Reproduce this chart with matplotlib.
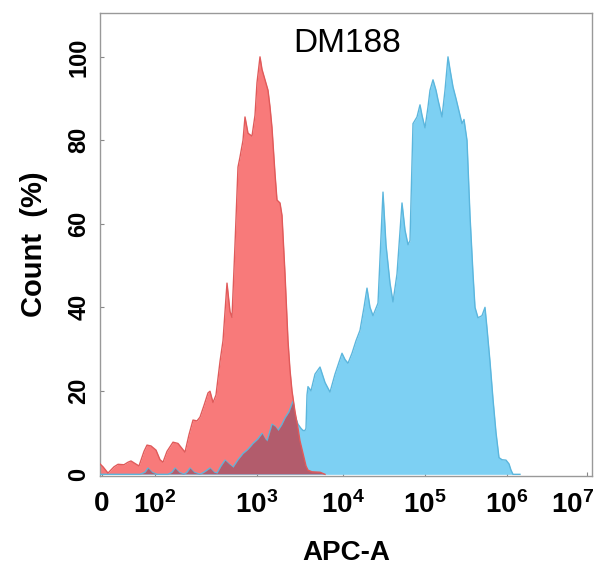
import matplotlib
matplotlib.use("Agg")
import matplotlib.pyplot as plt
import matplotlib.transforms as mtransforms

# Fonts: Arial-like sans, bold mathtext for the 10^n tick labels
plt.rcParams["font.family"] = ["Liberation Sans", "DejaVu Sans"]
plt.rcParams["mathtext.fontset"] = "custom"
plt.rcParams["mathtext.rm"] = "Liberation Sans:bold"
plt.rcParams["mathtext.it"] = "Liberation Sans:bold"
plt.rcParams["mathtext.bf"] = "Liberation Sans:bold"

# Histogram traces, x in display channels of the biexponential axis, y in % of max
red_x = [0, 3, 8, 14, 18, 24, 28, 31, 35, 39, 44, 47, 51, 56, 60, 63, 67, 73, 78, 85,
         89, 93, 97, 100, 104, 108, 110, 113, 116, 120, 123, 127, 130, 132, 135, 138,
         140, 143, 145, 148, 152, 155, 157, 160, 162, 165, 168, 170, 172, 175, 177,
         180, 182, 185, 188, 190, 192, 195, 198, 200, 203, 206, 208, 212, 220, 225]
red_y = [2.5, 1.8, 0.3, 1.8, 2.4, 2.3, 2.9, 3.2, 2.6, 2.0, 5.5, 7.0, 6.8, 5.8, 3.5, 2.9,
         5.5, 7.7, 7.4, 5.3, 9.5, 13, 12.8, 13.7, 16.5, 19.5, 19.9, 17.2, 19, 27, 32,
         45.8, 39, 37.6, 55, 73.6, 76, 80, 85.6, 81.7, 81, 86, 93.8, 100, 97, 94.5, 92,
         88, 83, 72, 65.7, 65, 62, 48, 32, 25, 20, 15, 11, 8, 5, 2, 1, 0.6, 0.5, 0]

blue_x = [0, 40, 45, 48, 52, 57, 68, 72, 75, 79, 84, 87, 90, 94, 100, 104, 110, 114,
          117, 121, 125, 129, 133, 138, 143, 148, 153, 158, 162, 165, 167, 172, 175,
          178, 182, 185, 189, 193, 195, 198, 201, 203, 205, 206, 207, 208, 211, 215,
          220, 225, 230, 235, 242, 245, 248, 252, 256, 260, 264, 267, 270, 273, 278,
          283, 286, 290, 293, 297, 302, 305, 308, 310, 313, 317, 320, 322, 325, 328,
          330, 333, 336, 338, 342, 345, 348, 350, 353, 356, 358, 362, 364, 367, 370,
          373, 375, 378, 382, 385, 387, 390, 393, 396, 399, 402, 406, 409, 411, 413, 420]
blue_y = [0, 0, 0.5, 1.5, 0.5, 0, 0, 0.5, 1.5, 0.5, 0, 0.5, 1.5, 0.5, 0, 0.5, 1.5, 0.5,
          0.3, 2, 3.4, 2.5, 1.7, 3.5, 5, 6, 7.4, 8.5, 9.8, 8.5, 8, 12, 11.5, 10.5, 12,
          13.5, 15, 17.5, 14, 12, 11, 10.5, 10.5, 11, 19, 21, 20, 24, 25.7, 22, 19.7,
          24, 29, 27.5, 26.6, 29, 32, 34.5, 40, 44.6, 40, 38, 41, 67.6, 55, 45.8, 41.3,
          48, 65, 58.5, 55, 56, 84, 85.6, 88.5, 86, 83, 88, 92, 94.5, 92, 89.7, 85.6,
          92, 100, 97, 92.8, 90, 88, 84, 85, 80, 62, 48, 40, 37.5, 38, 40, 35, 27, 18,
          10, 4, 3.5, 3.4, 2.5, 1, 0, 0]

# Axis ticks
tick_pos = [2, 55, 157, 243, 325, 407, 487]
tick_labels = ["0", r"$10^{2}$", r"$10^{3}$", r"$10^{4}$", r"$10^{5}$", r"$10^{6}$", r"$10^{7}$"]
y_ticks = [0, 20, 40, 60, 80, 100]

fig = plt.figure(figsize=(5.99, 5.74), dpi=100)
ax = fig.add_axes([100 / 599, 1 - 476 / 574, 492 / 599, 463 / 574])

# red (control) first, blue (DM188) on top, then the overlap darkened
red_poly = ax.fill_between(red_x, red_y, 0, color="#F87A7A", lw=0, zorder=2)
ax.plot(red_x, red_y, color="#E05A5A", lw=1.0, zorder=4)
ax.fill_between(blue_x, blue_y, 0, color="#7DD0F3", lw=0, zorder=3)
ax.plot(blue_x, blue_y, color="#5BB6DD", lw=1.0, zorder=3.5)
overlap = ax.fill_between(blue_x, blue_y, 0, color="#B25C6C", lw=0, zorder=3.6)
overlap.set_clip_path(red_poly.get_paths()[0], ax.transData)

ax.set_xlim(0, 492)
ax.set_ylim(-0.4, 110.5)

ax.set_xticks(tick_pos)
ax.set_xticklabels(tick_labels)
ax.set_yticks(y_ticks)
ax.tick_params(axis="x", labelsize=20, direction="in", length=3, color="#888888", pad=11)
ax.tick_params(axis="y", labelsize=17, direction="in", length=3, color="#888888",
               labelrotation=90, pad=7)
for lab in ax.get_xticklabels() + ax.get_yticklabels():
    lab.set_fontweight("bold")
for lab in ax.get_yticklabels():
    lab.set_verticalalignment("center")

# last label sits left of its tick so it stays inside the picture
last = ax.get_xticklabels()[-1]
last.set_transform(last.get_transform() + mtransforms.ScaledTranslation(-14 / 100, 0, fig.dpi_scale_trans))

for sp in ax.spines.values():
    sp.set_color("#999999")
    sp.set_linewidth(1.0)

ax.set_xlabel("APC-A", fontsize=20, fontweight="bold", labelpad=15)
ax.set_ylabel("Count  (%)", fontsize=21, fontweight="bold", labelpad=14)
ax.text(0.502, 0.935, "DM188", transform=ax.transAxes, ha="center", va="center", fontsize=24)

fig.savefig("out.png", dpi=100)
